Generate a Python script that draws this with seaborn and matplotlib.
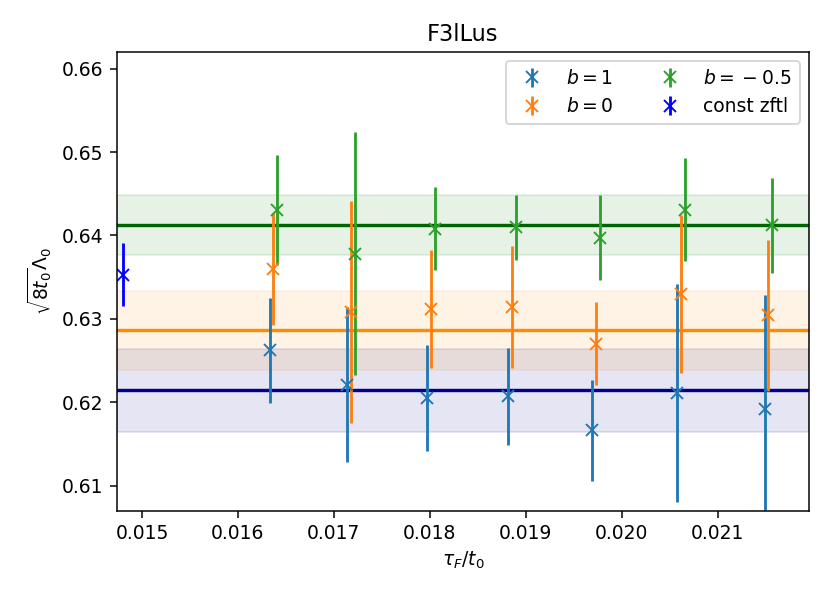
import numpy as np
import matplotlib
matplotlib.use("Agg")
import matplotlib.pyplot as plt
import seaborn as sns

# tau_F / t0 positions for the three b values (slightly shifted)
x_b1 = [0.01633, 0.01714, 0.01797, 0.01882, 0.01969, 0.02058, 0.02149]
x_b0 = [0.01637, 0.01718, 0.01801, 0.01886, 0.01973, 0.02062, 0.02153]
x_bm = [0.01641, 0.01722, 0.01805, 0.01890, 0.01977, 0.02066, 0.02157]

y_b1 = [0.6262, 0.6221, 0.6205, 0.6207, 0.6166, 0.6211, 0.6192]
e_b1 = [0.0063, 0.0093, 0.0064, 0.0058, 0.0061, 0.0131, 0.0136]
y_b0 = [0.6360, 0.6308, 0.6312, 0.6314, 0.6270, 0.6330, 0.6304]
e_b0 = [0.0067, 0.0133, 0.0071, 0.0073, 0.0050, 0.0095, 0.0091]
y_bm = [0.6431, 0.6378, 0.6408, 0.6410, 0.6397, 0.6431, 0.6412]
e_bm = [0.0066, 0.0146, 0.0050, 0.0039, 0.0051, 0.0062, 0.0057]

# constant zftl point
x_const = 0.014798
y_const = 0.6353
e_const = 0.0038

# fit results (value, error) per b
fit_b1 = (0.6214, 0.0050)
fit_b0 = (0.6286, 0.0047)
fit_bm = (0.6413, 0.0036)

pal = sns.color_palette("tab10")

DPI = 135
fig = plt.figure(figsize=(830 / DPI, 595 / DPI), dpi=DPI)
ax = fig.add_axes([0.1405, 0.142, 0.8343, 0.7705])

# bands
for (val, err), col in [(fit_b1, "darkblue"), (fit_b0, "darkorange"), (fit_bm, "green")]:
    ax.axhspan(val - err, val + err, color=col, alpha=0.1)
ax.axhline(fit_b1[0], color="darkblue", lw=1.8)
ax.axhline(fit_b0[0], color="darkorange", lw=1.8)
ax.axhline(fit_bm[0], color="darkgreen", lw=1.8)

ax.errorbar(x_b1, y_b1, yerr=e_b1, fmt="x", color=pal[0], ms=6.5, lw=1.5, label="$b=1$")
ax.errorbar(x_b0, y_b0, yerr=e_b0, fmt="x", color=pal[1], ms=6.5, lw=1.5, label="$b=0$")
ax.errorbar(x_bm, y_bm, yerr=e_bm, fmt="x", color=pal[2], ms=6.5, lw=1.5,
            label=r"$b=\:{-}\:0.5$")
ax.errorbar([x_const], [y_const], yerr=[e_const], fmt="x", color="blue", ms=6.5, lw=1.5,
            label="const zftl")

ax.set_xlim(0.014736, 0.021954)
ax.set_ylim(0.607, 0.662)
ax.set_xticks([0.015, 0.016, 0.017, 0.018, 0.019, 0.020, 0.021])
ax.set_yticks([0.61, 0.62, 0.63, 0.64, 0.65, 0.66])
ax.set_xticklabels(["0.015", "0.016", "0.017", "0.018", "0.019", "0.020", "0.021"])
ax.set_yticklabels(["0.61", "0.62", "0.63", "0.64", "0.65", "0.66"])
ax.set_xlabel(r"$\tau_F/t_0$")
ax.set_ylabel(r"$\sqrt{8t_0}\Lambda_0$")
ax.set_title("F3lLus", fontsize=12)
ax.legend(ncol=2, loc="upper right")

fig.savefig("out.png", dpi=DPI)
